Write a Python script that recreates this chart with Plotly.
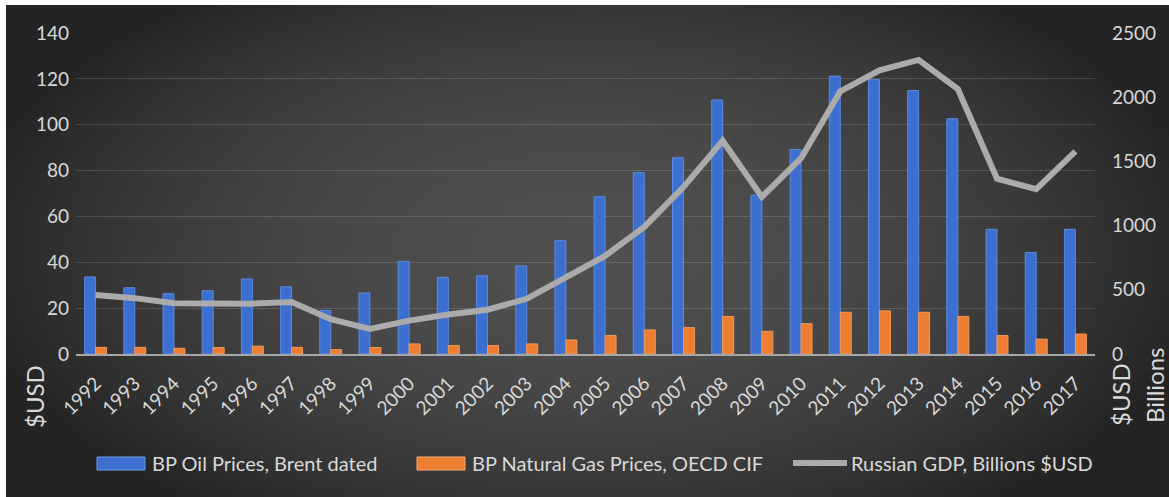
import base64
import struct
import zlib

import plotly.graph_objects as go

# ---------------- data ----------------
years = [str(y) for y in range(1992, 2018)]
oil_prices = [33.6, 28.9, 26.3, 27.6, 32.7, 29.3, 19.0, 26.6, 40.4, 33.4, 34.1, 38.4,
              49.4, 68.6, 79.1, 85.6, 110.8, 69.3, 89.2, 121.2, 119.8, 114.9, 102.6,
              54.4, 44.3, 54.4]
gas_prices = [2.9, 2.9, 2.5, 2.8, 3.4, 2.9, 1.9, 2.8, 4.4, 3.7, 3.7, 4.4,
              6.1, 8.1, 10.5, 11.5, 16.4, 9.9, 13.2, 18.2, 18.8, 18.2, 16.4,
              8.1, 6.5, 8.7]
russian_gdp = [460, 435, 395, 395, 392, 405, 271, 196, 260, 307, 345, 430,
               591, 764, 990, 1300, 1661, 1223, 1525, 2045, 2210, 2290, 2064,
               1365, 1283, 1578]
left_ticks = [0, 20, 40, 60, 80, 100, 120, 140]
right_ticks = [0, 500, 1000, 1500, 2000, 2500]
series_names = ["BP Oil Prices, Brent dated", "BP Natural Gas Prices, OECD CIF",
                "Russian GDP, Billions $USD"]

BLUE = "#3c6fd0"
ORANGE = "#ed7d31"
GRAY = "#ababab"

# ---------------- background gradient (radial, dark) ----------------
def make_png(w, h):
    rows = []
    for j in range(h):
        dy = (j / (h - 1)) * 2 - 1
        row = bytearray([0])
        for i in range(w):
            dx = (i / (w - 1)) * 2 - 1
            d = min(1.0, 0.85 * dx * dx + 0.55 * dy * dy)
            v = int(round(79 - 43 * d))
            row.append(v)
        rows.append(bytes(row))
    raw = b"".join(rows)

    def chunk(tag, data):
        c = struct.pack(">I", len(data)) + tag + data
        return c + struct.pack(">I", zlib.crc32(tag + data) & 0xFFFFFFFF)

    png = b"\x89PNG\r\n\x1a\n"
    png += chunk(b"IHDR", struct.pack(">IIBBBBB", w, h, 8, 0, 0, 0, 0))
    png += chunk(b"IDAT", zlib.compress(raw, 9))
    png += chunk(b"IEND", b"")
    return "data:image/png;base64," + base64.b64encode(png).decode()

bg_src = make_png(160, 80)

W, H = 1169, 497
ML, MR, MT, MB = 76, 74, 33, 143
PW = W - ML - MR
PH = H - MT - MB

def px_x(x):
    return (x - ML) / PW

def px_y(y):
    return (H - MB - y) / PH

FONT = "Lato, 'Open Sans', sans-serif"
TXT = "#d9d9d9"

fig = go.Figure()
fig.add_trace(go.Bar(
    x=years, y=oil_prices, name=series_names[0], showlegend=False,
    marker=dict(color=BLUE, line=dict(color="#5b8ae0", width=1)),
))
fig.add_trace(go.Bar(
    x=years, y=gas_prices, name=series_names[1], showlegend=False,
    marker=dict(color=ORANGE, line=dict(color="#f39a5a", width=1)),
))
fig.add_trace(go.Scatter(
    x=years, y=russian_gdp, name=series_names[2], yaxis="y2", showlegend=False,
    mode="lines", line=dict(color=GRAY, width=6),
))

# ---- legend (drawn as swatches + labels to match the reference's wide keys) ----
LEG_Y = 463
legend_shapes = [
    dict(type="rect", xref="paper", yref="paper", x0=px_x(97), x1=px_x(145),
         y0=px_y(457), y1=px_y(470), fillcolor=BLUE, line=dict(color="#6f9be8", width=1)),
    dict(type="rect", xref="paper", yref="paper", x0=px_x(417), x1=px_x(465),
         y0=px_y(457), y1=px_y(470), fillcolor=ORANGE, line=dict(color="#f5a86f", width=1)),
    dict(type="line", xref="paper", yref="paper", x0=px_x(793), x1=px_x(847),
         y0=px_y(LEG_Y), y1=px_y(LEG_Y), line=dict(color=GRAY, width=6)),
]
legend_texts = [
    dict(text=series_names[0], x=px_x(150)),
    dict(text=series_names[1], x=px_x(470)),
    dict(text=series_names[2], x=px_x(849)),
]
legend_annotations = [
    dict(text=t["text"], xref="paper", yref="paper", x=t["x"], y=px_y(LEG_Y),
         xanchor="left", yanchor="middle", showarrow=False,
         font=dict(size=20, color=TXT, family=FONT))
    for t in legend_texts
]

axis_title_annotations = [
    dict(text="$USD", xref="paper", yref="paper", x=px_x(35), y=px_y(397),
         showarrow=False, textangle=-90, font=dict(size=24, color=TXT, family=FONT),
         xanchor="center", yanchor="middle"),
    dict(text="$USD", xref="paper", yref="paper", x=px_x(1121), y=px_y(395),
         showarrow=False, textangle=-90, font=dict(size=24, color=TXT, family=FONT),
         xanchor="center", yanchor="middle"),
    dict(text="Billions", xref="paper", yref="paper", x=px_x(1155), y=px_y(385),
         showarrow=False, textangle=-90, font=dict(size=24, color=TXT, family=FONT),
         xanchor="center", yanchor="middle"),
]

fig.update_layout(
    width=W, height=H, autosize=False,
    margin=dict(l=ML, r=MR, t=MT, b=MB, pad=0),
    paper_bgcolor="white",
    plot_bgcolor="rgba(0,0,0,0)",
    font=dict(family=FONT, color=TXT, size=19),
    barmode="group", bargap=0.44, bargroupgap=0.0,
    showlegend=False,
    xaxis=dict(
        type="category", tickangle=-45, showgrid=False,
        showline=True, linecolor="#a6a6a6", linewidth=2,
        ticks="", tickfont=dict(size=19, color=TXT),
        ticklabelstandoff=9,
    ),
    yaxis=dict(
        range=[0, 140], tickvals=left_ticks, showgrid=True,
        gridcolor="rgba(255,255,255,0.14)", gridwidth=1,
        zeroline=False, ticks="", tickfont=dict(size=19, color=TXT),
        ticklabelstandoff=6,
    ),
    yaxis2=dict(
        range=[0, 2500], tickvals=right_ticks, overlaying="y", side="right",
        showgrid=False, zeroline=False, ticks="", tickfont=dict(size=19, color=TXT),
        ticklabelstandoff=16,
    ),
    images=[dict(
        source=bg_src, xref="paper", yref="paper",
        x=px_x(6), y=px_y(5), sizex=(W - 6) / PW, sizey=(H - 5) / PH,
        xanchor="left", yanchor="top", sizing="stretch", layer="below",
    )],
    shapes=legend_shapes,
    annotations=legend_annotations + axis_title_annotations,
)

fig.write_html(
    "out.html",
    config={"displayModeBar": False},
    post_script="document.body.style.margin='0';document.body.style.overflow='hidden';",
)
